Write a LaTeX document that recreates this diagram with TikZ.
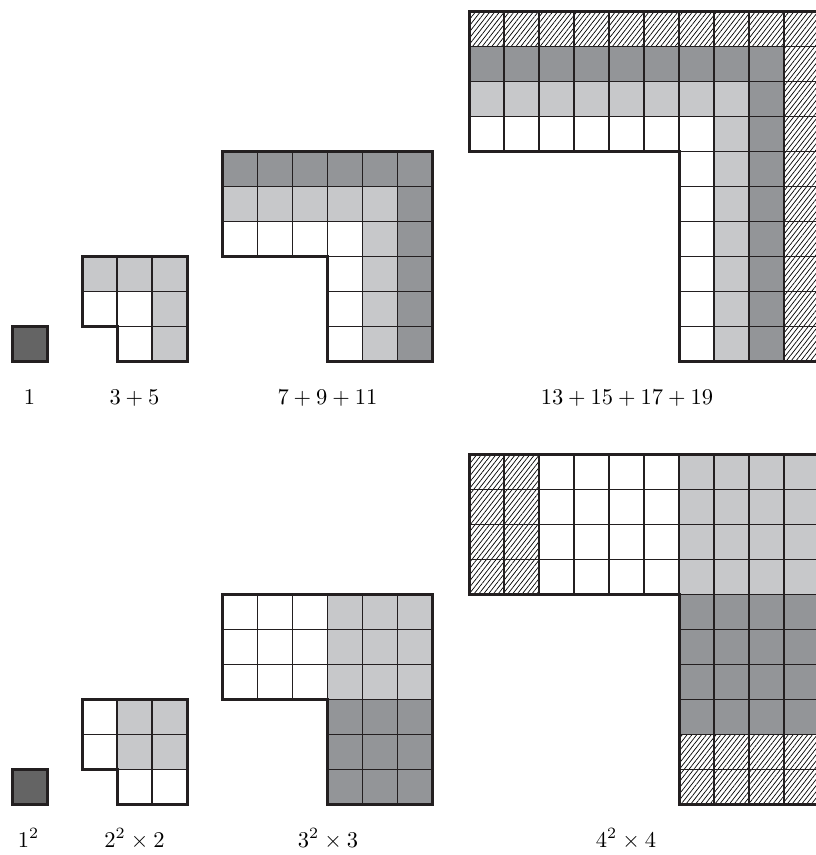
\documentclass[tikz,border=0pt]{standalone}
\usepackage{graphicx}
\usetikzlibrary{patterns.meta}
\definecolor{darkc}{RGB}{147,149,152}
\definecolor{lightc}{RGB}{199,200,202}
\definecolor{onec}{RGB}{100,100,100}
\definecolor{linec}{RGB}{35,31,32}
\tikzset{
 hatchcell/.style={fill=white, postaction={pattern={Lines[angle=52,distance=3.8pt,line width=0.7pt]}, pattern color=black}},
 darkcell/.style={fill=darkc},
 lightcell/.style={fill=lightc},
 onecell/.style={fill=onec},
 gridline/.style={draw=linec, line width=1.1pt},
 outline/.style={draw=linec, line width=3pt, line join=miter},
 lab/.style={anchor=base, inner sep=0pt},
 fig/.style={x=35pt, y=-35pt}
}
\newcommand\sq[3]{\path[#1] (#2,#3) rectangle ++(1,1);}
\newcommand\Lpath[2]{(0,0)--(#1,0)--(#1,#1)--(#2,#1)--(#2,#1-#2)--(0,#1-#2)--cycle}
\newcommand\gridlines[1]{\foreach \i in {1,...,#1} {\draw[gridline] (\i,0)--(\i,#1+1); \draw[gridline] (0,\i)--(#1+1,\i);}}
\newcommand\labmath[1]{\scalebox{2.25}{$#1$}}
\begin{document}
\begin{tikzpicture}
\clip (0,0) rectangle (816pt,-855pt);
\fill[white] (0,0) rectangle (816pt,-855pt);

% ===== top row =====
% 1
\begin{scope}[shift={(12pt,-326.5pt)}, fig]
 \sq{onecell}{0}{0}
 \draw[outline] (0,0) rectangle (1,1);
\end{scope}
% 3+5
\begin{scope}[shift={(82pt,-256.5pt)}, fig]
 \foreach \c in {0,1,2} {\sq{lightcell}{\c}{0}}
 \foreach \r in {1,2} {\sq{lightcell}{2}{\r}}
 \begin{scope} \clip \Lpath{3}{1}; \gridlines{2} \end{scope}
 \draw[outline] \Lpath{3}{1};
\end{scope}
% 7+9+11
\begin{scope}[shift={(222.5pt,-151.5pt)}, fig]
 \foreach \c in {0,...,5} {\sq{darkcell}{\c}{0}}
 \foreach \r in {1,...,5} {\sq{darkcell}{5}{\r}}
 \foreach \c in {0,...,4} {\sq{lightcell}{\c}{1}}
 \foreach \r in {2,...,5} {\sq{lightcell}{4}{\r}}
 \begin{scope} \clip \Lpath{6}{3}; \gridlines{5} \end{scope}
 \draw[outline] \Lpath{6}{3};
\end{scope}
% 13+15+17+19
\begin{scope}[shift={(469pt,-11.5pt)}, fig]
 \foreach \c in {0,...,9} {\sq{hatchcell}{\c}{0}}
 \foreach \r in {1,...,9} {\sq{hatchcell}{9}{\r}}
 \foreach \c in {0,...,8} {\sq{darkcell}{\c}{1}}
 \foreach \r in {2,...,9} {\sq{darkcell}{8}{\r}}
 \foreach \c in {0,...,7} {\sq{lightcell}{\c}{2}}
 \foreach \r in {3,...,9} {\sq{lightcell}{7}{\r}}
 \begin{scope} \clip \Lpath{10}{6}; \gridlines{9} \end{scope}
 \draw[outline] \Lpath{10}{6};
\end{scope}

% ===== bottom row =====
% 1^2
\begin{scope}[shift={(12pt,-769.5pt)}, fig]
 \sq{onecell}{0}{0}
 \draw[outline] (0,0) rectangle (1,1);
\end{scope}
% 2^2 x 2
\begin{scope}[shift={(82pt,-699.5pt)}, fig]
 \foreach \c in {1,2} {\foreach \r in {0,1} {\sq{lightcell}{\c}{\r}}}
 \begin{scope} \clip \Lpath{3}{1}; \gridlines{2} \end{scope}
 \draw[outline] \Lpath{3}{1};
\end{scope}
% 3^2 x 3
\begin{scope}[shift={(222.5pt,-594.5pt)}, fig]
 \foreach \c in {3,4,5} {\foreach \r in {0,1,2} {\sq{lightcell}{\c}{\r}}}
 \foreach \c in {3,4,5} {\foreach \r in {3,4,5} {\sq{darkcell}{\c}{\r}}}
 \begin{scope} \clip \Lpath{6}{3}; \gridlines{5} \end{scope}
 \draw[outline] \Lpath{6}{3};
\end{scope}
% 4^2 x 4
\begin{scope}[shift={(469pt,-454.5pt)}, fig]
 \foreach \c in {0,1} {\foreach \r in {0,...,3} {\sq{hatchcell}{\c}{\r}}}
 \foreach \c in {6,...,9} {\foreach \r in {0,...,3} {\sq{lightcell}{\c}{\r}}}
 \foreach \c in {6,...,9} {\foreach \r in {4,...,7} {\sq{darkcell}{\c}{\r}}}
 \foreach \c in {6,...,9} {\foreach \r in {8,9} {\sq{hatchcell}{\c}{\r}}}
 \begin{scope} \clip \Lpath{10}{6}; \gridlines{9} \end{scope}
 \draw[outline] \Lpath{10}{6};
\end{scope}

% ===== labels =====
\node[lab] (t1) at (29.5pt,-404pt) {\labmath{1}};
\node[lab] (t2) at (134.5pt,-404pt) {\labmath{3+5}};
\node[lab] (t3) at (327.5pt,-404pt) {\labmath{7+9+11}};
\node[lab] (t4) at (627pt,-404pt) {\labmath{13+15+17+19}};
\node[lab] (b1) at (28.5pt,-847pt) {\labmath{1^2}};
\node[lab] (b2) at (134.5pt,-847pt) {\labmath{2^2\times 2}};
\node[lab] (b3) at (328pt,-847pt) {\labmath{3^2\times 3}};
\node[lab] (b4) at (626pt,-847pt) {\labmath{4^2\times 4}};
\end{tikzpicture}
\end{document}
